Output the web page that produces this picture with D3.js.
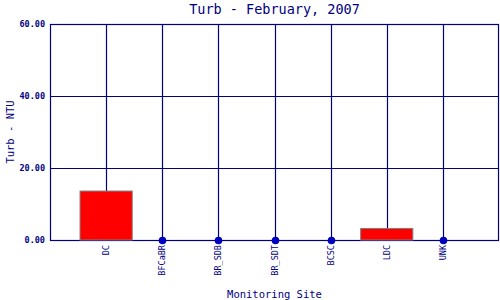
<!DOCTYPE html>
<html>
<head>
<meta charset="utf-8">
<script src="https://cdn.jsdelivr.net/npm/d3@7"></script>
<style>
  body { margin: 0; background: #fff; }
  svg { display: block; font-family: 'DejaVu Sans Mono', monospace; }
</style>
</head>
<body>
<svg id="chart" width="500" height="300"></svg>
<script>
const sites = ['DC', 'BFCaBR', 'BR_SDB', 'BR_SDT', 'BCSC', 'LDC', 'UNK'];
const turbValues = [13.6, 0, 0, 0, 0, 3.2, 0];
const yTicks = [0, 20, 40, 60];

const navy = '#000080';
const width = 500, height = 300;
const margin = { top: 24, right: 1, bottom: 60, left: 50 };

const svg = d3.select('#chart');

const x = d3.scalePoint()
  .domain(sites)
  .range([margin.left, width - margin.right])
  .padding(1);

const y = d3.scaleLinear()
  .domain([0, 60])
  .range([height - margin.bottom, margin.top]);

const step = x.step();
const barWidth = step * 0.93;
const plotCenter = (margin.left + width - margin.right) / 2;

// plot frame
svg.append('rect')
  .attr('x', margin.left + 0.5)
  .attr('y', margin.top + 0.5)
  .attr('width', width - margin.right - margin.left - 1)
  .attr('height', height - margin.bottom - margin.top)
  .attr('fill', 'none')
  .attr('stroke', navy)
  .attr('stroke-width', 1.2);

// horizontal grid
svg.append('g')
  .selectAll('line')
  .data(yTicks)
  .enter()
  .append('line')
  .attr('x1', margin.left)
  .attr('x2', width - margin.right)
  .attr('y1', d => Math.round(y(d)) + 0.5)
  .attr('y2', d => Math.round(y(d)) + 0.5)
  .attr('stroke', navy)
  .attr('stroke-width', 1.2);

// vertical grid
svg.append('g')
  .selectAll('line')
  .data(sites)
  .enter()
  .append('line')
  .attr('x1', d => Math.round(x(d)) + 0.5)
  .attr('x2', d => Math.round(x(d)) + 0.5)
  .attr('y1', margin.top)
  .attr('y2', height - margin.bottom)
  .attr('stroke', navy)
  .attr('stroke-width', 1.2);

const data = sites.map((s, i) => ({ site: s, value: turbValues[i] }));

// bars
svg.append('g')
  .selectAll('rect')
  .data(data.filter(d => d.value > 0))
  .enter()
  .append('rect')
  .attr('x', d => x(d.site) - barWidth / 2)
  .attr('y', d => y(d.value))
  .attr('width', barWidth)
  .attr('height', d => y(0) - y(d.value))
  .attr('fill', '#ff0000')
  .attr('stroke', '#808080')
  .attr('stroke-width', 1);

// zero-value markers
svg.append('g')
  .selectAll('circle')
  .data(data.filter(d => d.value === 0))
  .enter()
  .append('circle')
  .attr('cx', d => Math.round(x(d.site)) + 0.5)
  .attr('cy', d => y(d.value) + 0.5)
  .attr('r', 3.8)
  .attr('fill', '#0000c0');

// y tick labels
svg.append('g')
  .selectAll('text')
  .data(yTicks)
  .enter()
  .append('text')
  .attr('x', margin.left - 5)
  .attr('y', d => y(d) + 3)
  .attr('text-anchor', 'end')
  .attr('font-size', 8.5)
  .attr('font-weight', 'bold')
  .attr('fill', navy)
  .text(d => d.toFixed(2));

// x tick labels
svg.append('g')
  .selectAll('text')
  .data(sites)
  .enter()
  .append('text')
  .attr('transform', d => `translate(${x(d) + 3},${height - margin.bottom + 5}) rotate(-90)`)
  .attr('text-anchor', 'end')
  .attr('font-size', 8.5)
  .attr('fill', navy)
  .text(d => d);

// title
svg.append('text')
  .attr('x', plotCenter)
  .attr('y', 14)
  .attr('text-anchor', 'middle')
  .attr('font-size', 13.5)
  .attr('fill', navy)
  .text('Turb - February, 2007');

// axis titles
svg.append('text')
  .attr('x', plotCenter)
  .attr('y', 298)
  .attr('text-anchor', 'middle')
  .attr('font-size', 10.5)
  .attr('fill', navy)
  .text('Monitoring Site');

svg.append('text')
  .attr('transform', `translate(14,${(margin.top + height - margin.bottom) / 2}) rotate(-90)`)
  .attr('text-anchor', 'middle')
  .attr('font-size', 10.5)
  .attr('fill', navy)
  .text('Turb - NTU');
</script>
</body>
</html>
